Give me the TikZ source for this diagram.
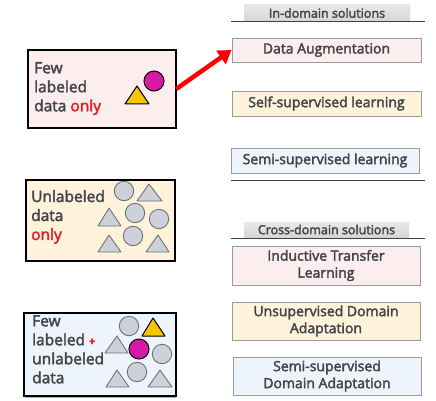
\documentclass[tikz,border=0pt]{standalone}
\usepackage{fontspec}
\setmainfont{Open Sans}[FakeBold=2.6]
\usetikzlibrary{arrows.meta}
\definecolor{txt}{HTML}{43464B}
\definecolor{hot}{HTML}{E3202A}
\definecolor{pinkbg}{HTML}{FCEEEE}
\definecolor{creambg}{HTML}{FFF3DC}
\definecolor{bluebg}{HTML}{EEF4FC}
\definecolor{shapegray}{HTML}{CDD2DA}
\definecolor{shapeedge}{HTML}{6E7379}
\definecolor{gold}{HTML}{F7C600}
\definecolor{magenta}{HTML}{D61AA6}
\definecolor{boxedge}{HTML}{9A9A9A}
\begin{document}
\begin{tikzpicture}[x=1pt,y=-1pt,
  datacase/.style={draw=black,line width=1.5pt},
  solbox/.style={draw=boxedge,line width=0.9pt,text=txt,align=center,font=\fontsize{14}{17}\selectfont},
  header/.style={top color=gray!18,bottom color=gray!32,text=txt,font=\fontsize{12.5}{14}\selectfont,inner sep=0pt},
  rule/.style={draw=black!75,line width=1pt},
  casetext/.style={text=txt,align=left,anchor=north west,inner sep=0pt,font=\fontsize{15.5}{19}\selectfont},
  gcirc/.style={fill=shapegray,draw=shapeedge,line width=0.9pt},
  gtri/.style={fill=shapegray,draw=shapeedge,line width=0.9pt,line join=round},
  ycirc/.style={fill=magenta,draw=black,line width=1pt},
  ytri/.style={fill=gold,draw=black,line width=1pt,line join=round}]
\useasboundingbox (0,0) rectangle (436,401);

% --- left column: the three data settings ---
\path[datacase, fill=pinkbg] (28,50) rectangle (176,128);
\node[inner sep=0pt, minimum width=148pt, minimum height=78pt] (b1) at (102,89) {};
\node[casetext] (t1) at (34,62) {Few\\labeled\\data \textcolor{hot}{only}};
\draw[ytri] (125,104) -- (149,104) -- (137,86) -- cycle;
\draw[ycirc] (154,81) circle (10);

\path[datacase, fill=creambg] (26,180) rectangle (175,261);
\node[casetext] (t2) at (31,190) {Unlabeled\\data\\\textcolor{hot}{only}};
\draw[gcirc] (124,191) circle (9.7);
\draw[gtri] (137,201) -- (162,201) -- (149,184) -- cycle;
\draw[gtri] (98,226) -- (121,226) -- (109,208) -- cycle;
\draw[gcirc] (135,213) circle (9.7);
\draw[gcirc] (159,219) circle (9.7);
\draw[gcirc] (133,236) circle (9.7);
\draw[gtri] (98,252) -- (121,252) -- (109,235) -- cycle;
\draw[gtri] (146,252) -- (169,252) -- (158,235) -- cycle;

\path[datacase, fill=bluebg] (24,313) rectangle (176,396);
\draw[gray!60,line width=1pt] (25,397.5) -- (176,397.5);
\node[casetext] (t3) at (32,315) {Few\\labeled \textcolor{hot}{\fontsize{11}{11}\selectfont\textbf{+}}\\unlabeled\\data};
\draw[gcirc] (129,326) circle (9.7);
\draw[ytri] (142,336) -- (165,336) -- (153,318) -- cycle;
\draw[gtri] (105,353) -- (128,353) -- (117,336) -- cycle;
\draw[ycirc] (139,349) circle (10);
\draw[gcirc] (162,354) circle (9.7);
\draw[gcirc] (137,372) circle (9.7);
\draw[gtri] (106,387) -- (129,387) -- (117,370) -- cycle;
\draw[gtri] (148,387) -- (172,387) -- (160,370) -- cycle;

% --- right column: solution families ---
\node[header, minimum width=166pt, minimum height=16pt] (h1) at (327,13) {In-domain solutions};
\draw[rule] (231,22) -- (425,22);
\node[solbox, fill=pinkbg, minimum width=189pt, minimum height=24pt] (da) at (326.5,50) {Data Augmentation};
\node[solbox, fill=creambg, minimum width=189pt, minimum height=25pt] (ss) at (326.5,103.5) {Self-supervised learning};
\node[solbox, fill=bluebg, minimum width=188pt, minimum height=25pt] (semi) at (325,160.5) {Semi-supervised learning};
\draw[rule] (231,180) -- (425,180);

\node[header, minimum width=165pt, minimum height=15pt] (h2) at (326.5,229.5) {Cross-domain solutions};
\draw[rule] (231,238) -- (425,238);
\node[solbox, fill=pinkbg, minimum width=188pt, minimum height=39pt] (itl) at (326,265.5) {Inductive Transfer\\Learning};
\node[solbox, fill=creambg, minimum width=188pt, minimum height=38pt] (uda) at (326,321) {Unsupervised Domain\\Adaptation};
\node[solbox, fill=bluebg, minimum width=188pt, minimum height=38pt] (ssda) at (327,376) {Semi-supervised\\Domain Adaptation};

% --- the link from the few-label setting to its in-domain remedy ---
\draw[red, line width=4.5pt, -{Triangle[length=13pt,width=16pt]}] (b1.east) -- (da.west);
\end{tikzpicture}
\end{document}
